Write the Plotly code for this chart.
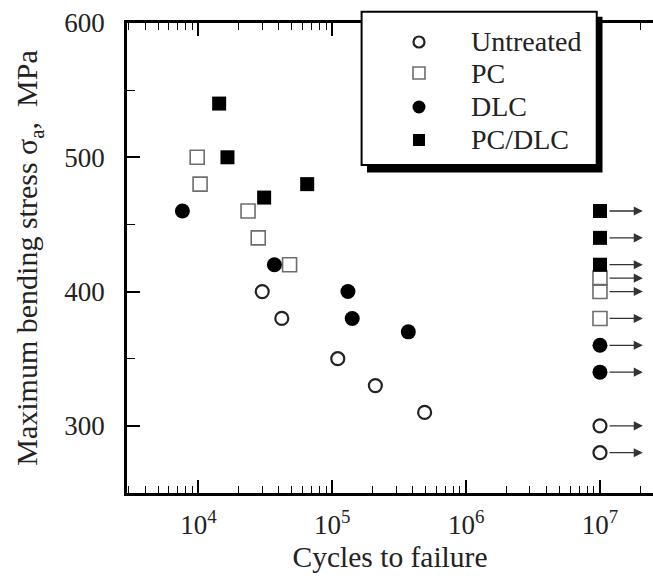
import math
import plotly.graph_objects as go

# Fatigue test results: cycles to failure vs. maximum bending stress (MPa)
untreated_cycles = [3.0e4, 4.2e4, 1.1e5, 2.1e5, 4.9e5]
untreated_stress = [400, 380, 350, 330, 310]
untreated_runout_stress = [300, 280]

pc_cycles = [9.8e3, 1.03e4, 2.35e4, 2.8e4, 4.8e4]
pc_stress = [500, 480, 460, 440, 420]
pc_runout_stress = [410, 400, 380]

dlc_cycles = [7.6e3, 3.7e4, 1.31e5, 1.41e5, 3.7e5]
dlc_stress = [460, 420, 400, 380, 370]
dlc_runout_stress = [360, 340]

pcdlc_cycles = [1.43e4, 1.65e4, 3.1e4, 6.5e4]
pcdlc_stress = [540, 500, 470, 480]
pcdlc_runout_stress = [460, 440, 420]

runout_cycles = 1e7  # tests stopped without failure

series_names = ["Untreated", "PC", "DLC", "PC/DLC"]

x_tick_vals = [1e4, 1e5, 1e6, 1e7]
x_tick_text = ["10<sup>4</sup>", "10<sup>5</sup>", "10<sup>6</sup>", "10<sup>7</sup>"]
y_tick_vals = [300, 400, 500, 600]

FONT = "Liberation Serif, Times New Roman, serif"
TEXT = "#222"

styles = [
    dict(symbol="circle-open", size=13, color="#222", line=dict(color="#222", width=2.2)),
    dict(symbol="square-open", size=14, color="#6e6e6e", line=dict(color="#6e6e6e", width=1.6)),
    dict(symbol="circle", size=15, color="black", line=dict(width=0)),
    dict(symbol="square", size=14, color="black", line=dict(width=0)),
]
data = [
    (untreated_cycles, untreated_stress, untreated_runout_stress),
    (pc_cycles, pc_stress, pc_runout_stress),
    (dlc_cycles, dlc_stress, dlc_runout_stress),
    (pcdlc_cycles, pcdlc_stress, pcdlc_runout_stress),
]

fig = go.Figure()
annotations = []
for name, (cyc, stress, runout), marker in zip(series_names, data, styles):
    xs = list(cyc) + [runout_cycles] * len(runout)
    ys = list(stress) + list(runout)
    fig.add_trace(go.Scatter(x=xs, y=ys, mode="markers", name=name,
                             marker=marker, cliponaxis=False, showlegend=False))
    # run-out arrows
    for s in runout:
        annotations.append(dict(
            x=math.log10(runout_cycles) + 0.32, y=s,
            ax=math.log10(runout_cycles), ay=s,
            xref="x", yref="y", axref="x", ayref="y",
            text="", showarrow=True, arrowhead=2, arrowsize=1.4,
            arrowwidth=1.3, arrowcolor="#333", startstandoff=8,
        ))

minor_x = [m * 10 ** k for k in range(3, 8) for m in range(2, 10)]

fig.update_xaxes(
    type="log", range=[3.467, 7.396],
    tickvals=x_tick_vals, ticktext=x_tick_text,
    ticks="inside", ticklen=13, tickwidth=1.5, tickcolor="black",
    minor=dict(tickvals=minor_x, ticks="inside", ticklen=7, tickwidth=1.2, tickcolor="black"),
    showline=True, linecolor="black", linewidth=2.5, mirror="ticks",
    showgrid=False, zeroline=False,
    ticklabelstandoff=6,
    tickfont=dict(family=FONT, size=27, color=TEXT),
    title=dict(text="Cycles to failure", font=dict(family=FONT, size=29.5, color=TEXT), standoff=8),
)
fig.update_yaxes(
    range=[250, 600],
    tickvals=y_tick_vals,
    ticks="inside", ticklen=13, tickwidth=1.5, tickcolor="black",
    minor=dict(tickvals=[350, 450, 550], ticks="inside", ticklen=8, tickwidth=1.2, tickcolor="black"),
    showline=True, linecolor="black", linewidth=2.5, mirror=False,
    showgrid=False, zeroline=False,
    ticklabelstandoff=14,
    tickfont=dict(family=FONT, size=27, color=TEXT),
    title=dict(text="Maximum bending stress σ<sub>a</sub>,  MPa",
               font=dict(family=FONT, size=30, color=TEXT), standoff=18),
)

# legend frame with drop shadow
shapes = [
    dict(type="rect", xref="paper", yref="paper", x0=0.4563, x1=0.9040, y0=0.682, y1=1.0134,
         fillcolor="black", line=dict(width=0), layer="above"),
    dict(type="rect", xref="paper", yref="paper", x0=0.446, x1=0.893, y0=0.698, y1=1.024,
         fillcolor="white", line=dict(color="black", width=2), layer="above"),
]

# legend keys and labels
key_x = 0.5551
label_x = 0.6502
row_y = [0.9596, 0.8936, 0.8213, 0.7511]
key_shapes = [
    dict(type="circle", r=5.5, fill="white", line=dict(color="#222", width=2.2)),
    dict(type="rect", r=6, fill="white", line=dict(color="#6e6e6e", width=1.6)),
    dict(type="circle", r=6.5, fill="black", line=dict(color="black", width=0)),
    dict(type="rect", r=6, fill="black", line=dict(color="black", width=0)),
]
for name, ky, ks in zip(series_names, row_y, key_shapes):
    r = ks["r"]
    shapes.append(dict(
        type=ks["type"], xref="paper", yref="paper",
        xsizemode="pixel", ysizemode="pixel", xanchor=key_x, yanchor=ky,
        x0=-r, x1=r, y0=-r, y1=r,
        fillcolor=ks["fill"], line=ks["line"], layer="above",
    ))
    annotations.append(dict(
        x=label_x, y=ky, xref="paper", yref="paper", xanchor="left", yanchor="middle",
        text=name, showarrow=False, font=dict(family=FONT, size=28, color=TEXT),
    ))

fig.update_layout(
    width=653, height=583,
    margin=dict(l=127, r=0, t=23, b=90),
    paper_bgcolor="white", plot_bgcolor="white",
    font=dict(family=FONT, color=TEXT),
    showlegend=False,
    shapes=shapes,
    annotations=annotations,
)

fig.write_html("out.html")
